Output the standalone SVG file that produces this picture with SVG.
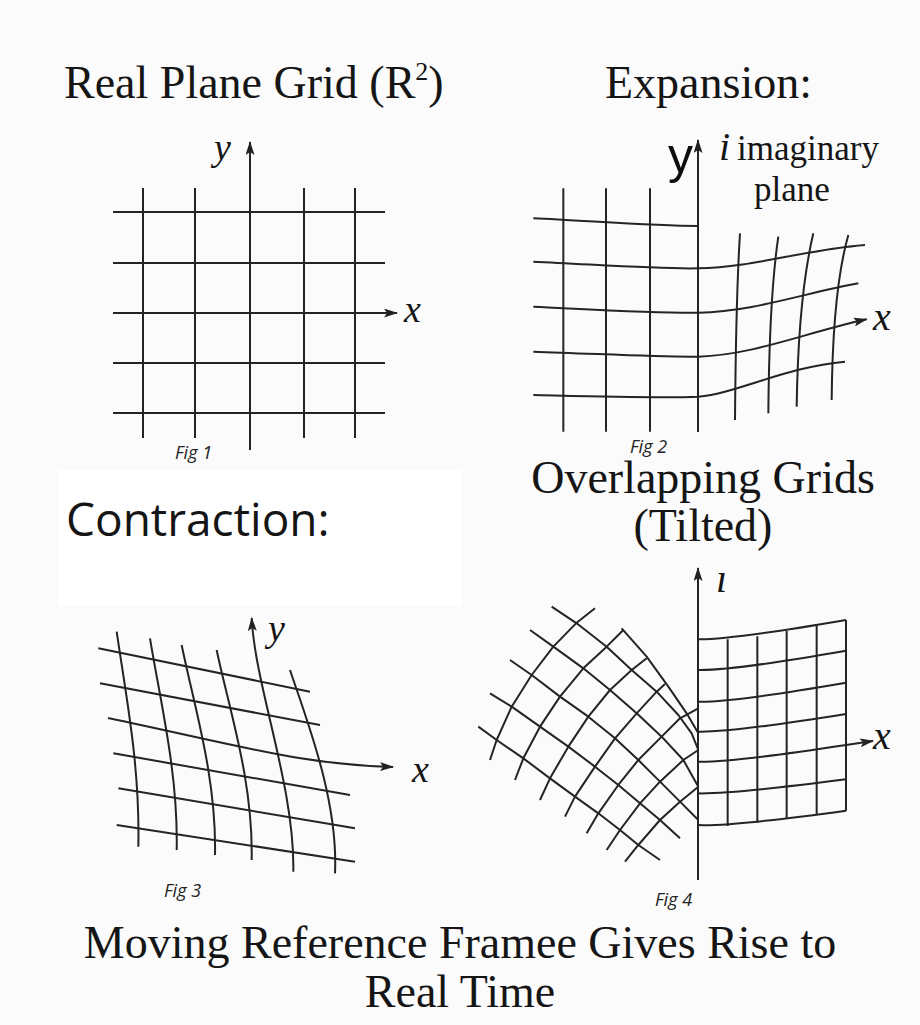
<svg xmlns="http://www.w3.org/2000/svg" width="920" height="1025" viewBox="0 0 920 1025">
<defs>
<marker id="ah" viewBox="0 0 14 9" refX="13" refY="4.5" markerWidth="14" markerHeight="9" markerUnits="userSpaceOnUse" orient="auto">
<path d="M0,0 L14,4.5 L0,9 L3,4.5 z" fill="#222"/>
</marker>
<style>
.g{fill:none;stroke:#242424;stroke-width:2;stroke-linejoin:round}
.s3{stroke-width:6}
.ax{fill:none;stroke:#242424;stroke-width:2;marker-end:url(#ah)}
.t{font-family:"Liberation Serif","Times New Roman",serif;fill:#151515;font-size:46px}
.ti{font-family:"Liberation Serif","Times New Roman",serif;font-style:italic;fill:#151515}
.f{font-family:"Open Sans","Liberation Sans",sans-serif;font-style:italic;font-size:18px;fill:#222}
</style>
</defs>
<rect width="920" height="1025" fill="#fbfbfb"/>
<rect x="58" y="470" width="404" height="136" fill="#ffffff"/>

<g id="titles">
<text class="t" x="64" y="98">Real Plane Grid (R<tspan font-size="26" dy="-18">2</tspan><tspan dy="18">)</tspan></text>
<text class="t" x="605" y="98">Expansion:</text>
<text x="66" y="536" font-family="'Open Sans','Liberation Sans',sans-serif" font-size="46" fill="#151515">Contraction:</text>
<text class="t" x="703" y="493" text-anchor="middle">Overlapping Grids</text>
<text class="t" x="703" y="541" text-anchor="middle">(Tilted)</text>
<text class="t" x="460" y="958" text-anchor="middle">Moving Reference Framee Gives Rise to</text>
<text class="t" x="460" y="1007" text-anchor="middle">Real Time</text>
</g>

<g id="fig1">
<path class="g" d="M143,188 V438 M195,188 V438 M304,188 V438 M355,188 V438 M113,212 H385 M113,263 H385 M113,363 H385 M113,413 H385"/>
<text class="ti" x="214" y="160" font-size="38">y</text>
<text class="ti" x="404" y="322" font-size="38">x</text>
<text class="f" x="175" y="459">Fig 1</text>
</g>

<g id="fig2">
<g transform="translate(520,130) scale(0.33333)" class="g s3">
<path d="M130,175 V905 M258,175 V905 M390,175 V905"/>
<path d="M40,265 C200,272 400,288 532,288"/>
<path d="M40,395 C250,405 420,418 535,415 C700,412 850,360 1035,345"/>
<path d="M40,530 C250,540 420,550 535,548 C700,545 850,490 1015,460"/>
<path d="M40,795 C250,800 420,805 535,800 C650,790 800,710 975,695"/>
<path d="M660,310 Q648,500 645,870"/>
<path d="M775,320 Q748,500 745,850"/>
<path d="M880,310 Q835,500 830,830"/>
<path d="M985,315 Q938,480 935,810"/>
</g>
<text x="668" y="173" font-family="'Liberation Sans',Arial,sans-serif" font-size="50" fill="#0d0d0d">y</text>
<text class="ti" x="719" y="160" font-size="40">i</text>
<text x="737" y="160" font-family="'Liberation Serif','Times New Roman',serif" font-size="35" fill="#151515">imaginary</text>
<text x="754" y="201" font-family="'Liberation Serif','Times New Roman',serif" font-size="35" fill="#151515">plane</text>
<text class="ti" x="873" y="330" font-size="40">x</text>
<text class="f" x="630" y="453">Fig 2</text>
</g>

<g id="fig3">
<g transform="translate(80,560) scale(0.33333)" class="g s3">
<path d="M110,215 C140,420 180,620 175,860"/>
<path d="M210,235 C240,420 295,640 290,870"/>
<path d="M305,255 C340,430 410,650 405,885"/>
<path d="M410,270 C445,440 520,660 515,900"/>
<path d="M630,330 C680,480 775,720 765,940"/>
<path d="M55,265 L690,395 M60,370 L720,495 M100,580 L810,705 M115,685 L825,805 M110,795 L825,905"/>
</g>
<text class="ti" x="268" y="641" font-size="38">y</text>
<text class="ti" x="412" y="782" font-size="38">x</text>
<text class="f" x="164" y="897">Fig 3</text>
</g>

<g id="fig4">
<g transform="translate(470,590) scale(0.33333)" class="g s3">
<polyline points="455,115 530,200 595,290 650,370 685,430"/>
<polyline points="245,50 320,100 410,170 485,240 560,305 625,375 665,430 685,480"/>
<polyline points="180,120 250,170 340,235 420,300 500,370 575,440 640,510 685,590"/>
<polyline points="120,210 185,255 270,320 355,380 435,445 505,510 570,575 630,635 685,690"/>
<polyline points="60,310 125,350 210,410 295,470 375,530 445,585 510,640 570,690 630,745"/>
<polyline points="25,410 80,450 160,505 240,565 315,620 385,670 450,720 505,765 570,810"/>
<polyline points="60,510 80,450 125,350 185,255 250,170 318,100 375,55"/>
<polyline points="135,570 160,505 210,410 270,320 340,235 410,170 460,120"/>
<polyline points="210,630 240,565 295,470 355,380 420,300 485,240 530,205"/>
<polyline points="285,680 315,620 375,530 435,445 500,370 560,305 585,282"/>
<polyline points="350,730 385,670 445,585 505,510 575,440 630,385 685,355"/>
<polyline points="410,780 450,720 510,640 570,575 640,510 685,480"/>
<polyline points="465,815 505,765 570,690 630,635 685,590"/>
</g>
<g transform="translate(680,560) scale(0.33333)" class="g s3">
<path d="M52,238 Q150,240 498,180"/>
<path d="M52,330 Q150,333 498,272"/>
<path d="M52,425 Q150,428 498,368"/>
<path d="M52,515 Q150,518 498,462"/>
<path d="M52,700 Q150,703 498,658"/>
<path d="M52,795 Q150,800 498,752"/>
<path d="M143,238 V798 M232,229 V788 M320,213 V776 M410,197 V764 M498,180 V752"/>
</g>
<text class="ti" x="716" y="592" font-size="40">ı</text>
<text class="ti" x="873" y="749" font-size="40">x</text>
<text class="f" x="655" y="906">Fig 4</text>
</g>

<g id="axes">
<path class="ax" d="M250,450 L250,142"/>
<path class="ax" d="M113,313 L397,313"/>
<path class="ax" d="M698,432 L698,140"/>
<path class="ax" d="M533.3,351.7 C603.3,354 660,357.3 698.3,356.7 C753.3,355 803.3,333.3 866.7,319.3"/>
<path class="ax" d="M293.3,871.7 C295,786.7 255,686.7 251.7,618"/>
<path class="ax" d="M108,718 C250,748 300,764 393,767"/>
<path class="ax" d="M698,880 L698,568"/>
<path class="ax" d="M697.3,761.7 Q730,762.7 846,745 L873,741"/>
</g>
</svg>
